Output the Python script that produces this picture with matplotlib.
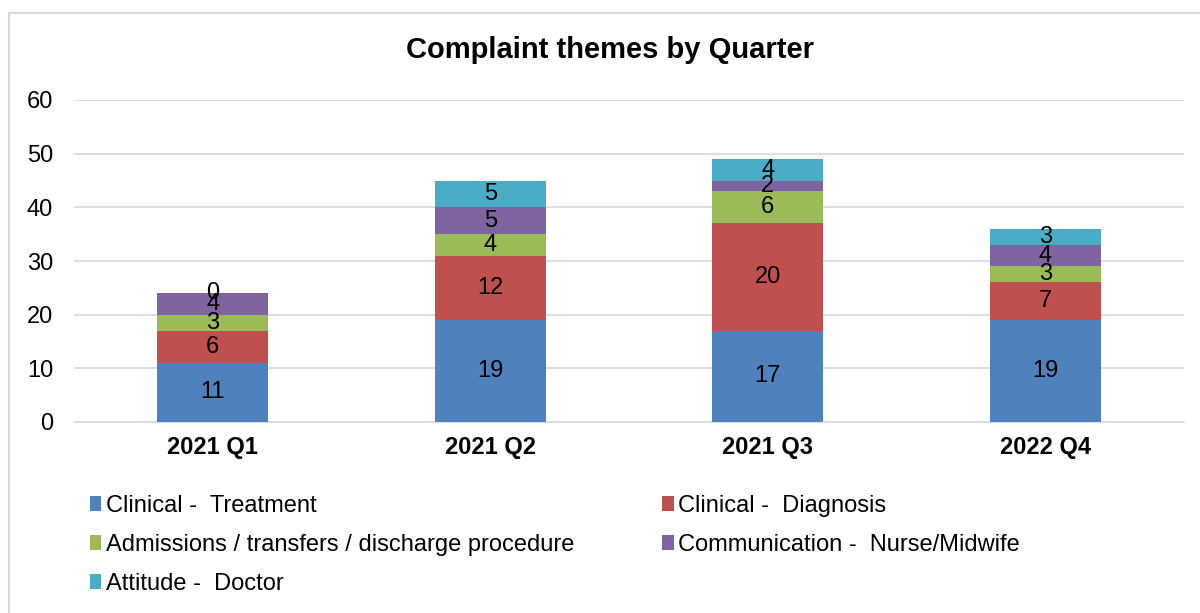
import matplotlib
matplotlib.use("Agg")
import matplotlib.pyplot as plt
from matplotlib.patches import Rectangle
import numpy as np

plt.rcParams['font.family'] = ['Liberation Sans', 'DejaVu Sans']

quarters = ["2021 Q1", "2021 Q2", "2021 Q3", "2022 Q4"]
series_names = ["Clinical -  Treatment", "Clinical -  Diagnosis",
                "Admissions / transfers / discharge procedure",
                "Communication -  Nurse/Midwife", "Attitude -  Doctor"]
treatment = [11, 19, 17, 19]
diagnosis = [6, 12, 20, 7]
admissions = [3, 4, 6, 3]
communication = [4, 5, 2, 4]
attitude = [0, 5, 4, 3]
colors = ["#4F81BD", "#C0504D", "#9BBB59", "#8064A2", "#4BACC6"]

series = [treatment, diagnosis, admissions, communication, attitude]

fig = plt.figure(figsize=(12, 6.13), dpi=100)
ax = fig.add_axes([74/1200, 1 - 422/613, (1184 - 74)/1200, (422 - 100)/613])

x = np.arange(len(quarters))
bottom = np.zeros(len(quarters))
handles = []
for name, vals, c in zip(series_names, series, colors):
    vals = np.array(vals, dtype=float)
    b = ax.bar(x, vals, 0.4, bottom=bottom, color=c, label=name, zorder=3)
    handles.append(b)
    for xi, v, bt in zip(x, vals, bottom):
        ax.text(xi, bt + v / 2, f"{int(v)}", ha="center", va="center",
                fontsize=17, color="black", zorder=4)
    bottom += vals

ax.set_xlim(-0.5, 3.5)
ax.set_ylim(0, 60)
ax.set_yticks(range(0, 61, 10))
ax.yaxis.grid(True, color="#D9D9D9", linewidth=1.2, zorder=0)
ax.set_axisbelow(True)
for s in ["top", "right", "left"]:
    ax.spines[s].set_visible(False)
ax.spines["bottom"].set_color("#D9D9D9")
ax.spines["bottom"].set_linewidth(1.2)
ax.tick_params(axis="both", length=0, labelsize=17)
ax.tick_params(axis="y", pad=15)
ax.tick_params(axis="x", pad=10)
ax.set_xticks(x)
ax.set_xticklabels(quarters, fontweight="bold", fontsize=17)

fig.text(610/1200, 1 - 50/613, "Complaint themes by Quarter", ha="center",
         va="center", fontsize=21, fontweight="bold")

# row-major legend order
order = [0, 2, 4, 1, 3]
leg = fig.legend(handles=[handles[i] for i in order],
                 labels=[series_names[i] for i in order], ncol=2,
                 loc="upper left", bbox_to_anchor=(73/1200, 1 - 478/613),
                 frameon=False, fontsize=17, handlelength=0.5, handleheight=0.6,
                 handletextpad=0.2, columnspacing=3.7, labelspacing=0.72,
                 borderpad=0.2)

# outer chart border
fig.patches.append(Rectangle((9/1200, -0.01), 1.0, 1 - 13/613 + 0.01,
                             transform=fig.transFigure, fill=False,
                             edgecolor="#D9D9D9", linewidth=1.5))

fig.savefig("out.png", dpi=100)
